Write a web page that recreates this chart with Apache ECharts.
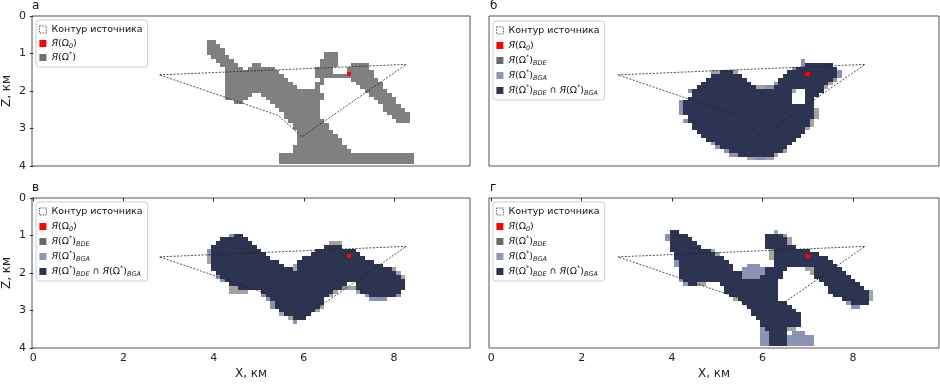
<!DOCTYPE html>
<html><head><meta charset="utf-8">
<script src="https://cdn.jsdelivr.net/npm/echarts@6/dist/echarts.min.js"></script>
<style>html,body{margin:0;padding:0;background:#fff}#c{width:940px;height:384px}</style>
</head><body><div id="c"></div>
<script>
// ---------------- data ----------------
// ticks
const xTicks = [0, 2, 4, 6, 8];
const zTicks = [0, 1, 2, 3, 4];
// source contour (X km, Z km)
const contourX = [2.80, 8.27, 5.96, 5.43, 2.80];
const contourZ = [1.57, 1.29, 3.22, 2.65, 1.57];
// initial point Ω0 (X km, Z km)
const omega0 = [[7.0, 1.55]];
// grid cells 0.1 km: each row = [rowIndex j (Z=j/10), colFrom, colTo, colFrom, colTo, ...] (X=i/10)
const regionA = [
[7,39,40],[8,39,41],[9,39,42],[10,39,42,65,67],[11,40,43,65,67],[12,41,44,64,67],
[13,42,45,49,50,64,67,71,74],[14,43,46,48,53,63,66,70,74],[15,43,54,63,66,70,75],
[16,43,55,63,75],[17,43,56,64,64,71,76],[18,43,57,63,64,72,77],[19,43,58,63,63,73,77],
[20,43,63,74,78],[21,43,48,51,64,75,79],[22,43,47,52,64,76,80],[23,45,46,53,63,77,80],
[24,54,63,78,81],[25,55,63,78,82],[26,56,63,79,83],[27,56,63,80,83],[28,57,64,81,83],
[29,58,65],[30,58,65],[31,59,66],[32,59,67],[33,59,68],[34,59,68],[35,58,69],[36,58,70],
[37,55,84],[38,55,84],[39,55,84]
];
// panel б
const coreB = [
[13,70,75],[14,68,76],[15,51,53,66,76],[16,49,55,65,76],[17,48,56,64,75],[18,47,57,64,74],
[19,46,58,63,73],[20,45,66,70,73],[21,45,66,70,72],[22,44,66,70,71],[23,43,66,70,71],
[24,43,71],[25,43,71],[26,43,71],[27,44,71],[28,44,70],[29,45,70],[30,45,69],[31,46,69],
[32,47,68],[33,48,67],[34,50,66],[35,51,65],[36,53,64],[37,55,62]
];
const bdeExtraB = [
[15,49,50,54,54],[18,75,75],[19,59,60,74,74],[20,67,67],[25,72,72],[26,72,72],[27,72,72],
[28,71,71],[29,71,71],[30,70,70],[36,65,65],[37,63,63],[38,57,58,61,62]
];
const bgaExtraB = [
[12,69,69],[13,69,69],[14,67,67],[15,77,77],[16,77,77],[17,76,76],[18,63,63],[19,61,62],
[20,44,44],[23,42,42],[24,42,42],[25,42,42],[26,42,42],[28,43,43],[34,49,49],[35,50,50],
[36,52,52],[37,53,54],[38,59,60]
];
// panel в
const coreV = [
[10,45,46],[11,42,47],[12,41,48],[13,40,49,65,68],[14,40,50,63,71],[15,40,51,62,72],
[16,40,52,60,73],[17,40,54,59,75],[18,40,55,59,77],[19,40,57,59,79],[20,41,80],[21,42,81],
[22,43,82],[23,44,69,72,82],[24,46,68,72,82],[25,51,66,73,81],[26,52,65,75,80],[27,53,64],
[28,54,64],[29,54,63],[30,55,62],[31,56,61],[32,58,60]
];
const bdeExtraV = [
[12,66,68],[16,39,39],[17,39,39],[18,58,58],[19,58,58,80,80],[20,81,81],[21,82,82],
[24,44,45,70,71],[25,44,47,67,67,72,72],[26,66,66],[29,64,64],[30,63,63],[31,55,55],[32,57,57]
];
const bgaExtraV = [
[10,44,44],[14,39,39],[15,39,39],[21,41,41],[22,42,42],[24,69,69],[26,51,51,74,74,81,81],
[27,52,52,75,78],[28,53,53],[29,53,53],[33,58,58]
];
// panel г
const coreG = [
[9,40,41],[10,40,43,61,64],[11,40,44,61,65],[12,40,45,61,65],[13,40,46,61,67],[14,40,48,63,70],
[15,41,49,63,72],[16,41,51,63,74],[17,42,52,63,75],[18,42,53,63,76],[19,42,53,61,65,72,77],
[20,42,55,61,64,72,78],[21,42,55,60,64,72,79],[22,43,63,73,80],[23,44,45,51,63,74,81],
[24,52,63,75,82],[25,52,63,75,83],[26,53,63,76,83],[27,55,63,78,83],[28,56,65,80,83],
[29,57,66],[30,58,67],[31,58,68],[32,59,68],[33,60,68],[34,60,68],[35,61,65],
[36,62,65],[37,62,65],[38,62,65],[39,62,65]
];
const bdeExtraG = [
[9,63,63],[11,66,66],[12,66,66],[14,49,49,62,62],[15,50,50,62,62],[16,62,62],
[19,70,71],[20,71,71],[23,46,47],[25,84,84],[26,84,84],[27,84,84,54,54],[35,66,67]
];
const bgaExtraG = [
[10,39,39,65,65],[11,39,39],[17,41,41],[18,41,41,57,59],[19,56,60],[20,56,60],[21,56,59],
[22,42,42],[23,43,43],[28,79,79],[29,80,81],[35,60,60],[36,60,61,67,69],[37,60,61,66,71],
[38,60,61,66,71],[39,60,61,66,71]
];

// ---------------- helpers ----------------
function expand(rows) {
  const out = [];
  rows.forEach(r => { for (let k = 1; k < r.length; k += 2) for (let i = r[k]; i <= r[k + 1]; i++) out.push(i + ',' + r[0]); });
  return out;
}
function toCells(keys) { return keys.map(s => { const p = s.split(','); return [(+p[0]) / 10, (+p[1]) / 10]; }); }
function classify(core, bdeExtra, bgaExtra) {
  const bde = new Set(expand(core).concat(expand(bdeExtra)));
  const bga = new Set(expand(core).concat(expand(bgaExtra)));
  const both = [], bdeOnly = [], bgaOnly = [];
  bde.forEach(k => (bga.has(k) ? both : bdeOnly).push(k));
  bga.forEach(k => { if (!bde.has(k)) bgaOnly.push(k); });
  return { both: toCells(both), bdeOnly: toCells(bdeOnly), bgaOnly: toCells(bgaOnly) };
}

const COL = { region: '#808080', bde: '#a3a3a3', bga: '#8a93b5', both: '#2d3451', red: '#ff0000' };
const LEG = { region: '#6f6f6f', bde: '#6a6a6a', bga: '#8e97b7', both: '#2d3451', red: '#ff0000' };
const FONT = 'DejaVu Sans';

const grids = [
  { left: 31, top: 16, width: 439, height: 150 },
  { left: 489, top: 16, width: 450, height: 150 },
  { left: 31, top: 198, width: 439, height: 150 },
  { left: 489, top: 198, width: 450, height: 150 }
];
const xRange = [[-0.029, 9.684], [-0.051, 9.905], [-0.029, 9.684], [-0.051, 9.905]];

function cellSeries(name, gi, cells, color, z) {
  return {
    type: 'custom', name, xAxisIndex: gi, yAxisIndex: gi, data: cells, encode: { x: 0, y: 1 },
    silent: true, clip: true, z: z || 2, itemStyle: { color },
    renderItem(params, api) {
      const x = api.value(0), zz = api.value(1);
      const p0 = api.coord([x - 0.05, zz - 0.05]);
      const p1 = api.coord([x + 0.05, zz + 0.05]);
      const x0 = Math.round(Math.min(p0[0], p1[0])), x1 = Math.round(Math.max(p0[0], p1[0]));
      const y0 = Math.round(Math.min(p0[1], p1[1])), y1 = Math.round(Math.max(p0[1], p1[1]));
      return {
        type: 'rect',
        shape: { x: x0, y: y0, width: x1 - x0, height: y1 - y0 },
        style: { fill: color }
      };
    }
  };
}
function contourSeries(name, gi) {
  return {
    type: 'line', name, xAxisIndex: gi, yAxisIndex: gi, data: contourX.map((x, k) => [x, contourZ[k]]),
    symbol: 'none', silent: true, z: 4,
    lineStyle: { color: '#222', width: 0.8, type: [2, 1.5] }, itemStyle: { color: '#fff' }
  };
}

const LABELS = {
  contour: 'Контур источника',
  omega0: '{it|Я}(Ω{sub|0})',
  region: '{it|Я}(Ω{sup|*})',
  bde: '{it|Я}(Ω{sup|*}){sub|BDE}',
  bga: '{it|Я}(Ω{sup|*}){sub|BGA}',
  both: '{it|Я}(Ω{sup|*}){sub|BDE} ∩ {it|Я}(Ω{sup|*}){sub|BGA}'
};
const LH = 13;
const rich = {
  it: { fontStyle: 'italic', fontSize: 9.5, fontFamily: FONT, lineHeight: LH, color: '#111' },
  sub: { fontStyle: 'italic', fontSize: 6.5, fontFamily: FONT, verticalAlign: 'bottom', lineHeight: LH, color: '#111' },
  sup: { fontSize: 6.5, fontFamily: FONT, verticalAlign: 'top', lineHeight: LH, color: '#111' }
};

const series = [];
const legends = [];
const legPos = [[36, 20], [493, 21], [36, 202], [493, 202]];
const panels = ['a', 'b', 'v', 'g'];
const sets = { b: classify(coreB, bdeExtraB, bgaExtraB), v: classify(coreV, bdeExtraV, bgaExtraV), g: classify(coreG, bdeExtraG, bgaExtraG) };

panels.forEach((p, gi) => {
  const legData = [{ name: p + '|contour', itemStyle: { color: '#fff', borderColor: '#333', borderWidth: 0.8, borderType: [1.5, 1.2] } },
                   { name: p + '|omega0', itemStyle: { color: LEG.red } }];
  if (p === 'a') {
    series.push(cellSeries(p + '|region', gi, toCells(expand(regionA)), COL.region));
    legData.push({ name: p + '|region', itemStyle: { color: LEG.region } });
  } else {
    const s = sets[p];
    series.push(cellSeries(p + '|bde', gi, s.bdeOnly, COL.bde));
    series.push(cellSeries(p + '|bga', gi, s.bgaOnly, COL.bga));
    series.push(cellSeries(p + '|both', gi, s.both, COL.both));
    legData.push({ name: p + '|bde', itemStyle: { color: LEG.bde } });
    legData.push({ name: p + '|bga', itemStyle: { color: LEG.bga } });
    legData.push({ name: p + '|both', itemStyle: { color: LEG.both } });
  }
  series.push(contourSeries(p + '|contour', gi));
  series.push(cellSeries(p + '|omega0', gi, omega0, COL.red, 5));
  legends.push({
    data: legData, orient: 'vertical', left: legPos[gi][0], top: legPos[gi][1], icon: 'rect',
    itemWidth: 7, itemHeight: 7, itemGap: p === 'a' ? 1 : 2, selectedMode: false,
    backgroundColor: 'rgba(255,255,255,0.85)', borderColor: '#cfcfcf', borderWidth: 1, borderRadius: 3,
    padding: [3, 5, 3, 3],
    textStyle: { fontFamily: FONT, fontSize: 9.5, color: '#111', lineHeight: LH, rich },
    formatter: name => LABELS[name.split('|')[1]]
  });
});

const xAxis = grids.map((g, gi) => {
  const bottom = gi >= 2;
  return {
    type: 'value', gridIndex: gi, min: xRange[gi][0], max: xRange[gi][1],
    axisLine: { show: false }, splitLine: { show: false },
    axisTick: { show: bottom, length: 3.5, lineStyle: { color: '#333' }, customValues: xTicks },
    axisLabel: { show: bottom, customValues: xTicks, fontSize: 11, color: '#222', margin: 5, fontFamily: FONT },
    name: bottom ? 'X, км' : '', nameLocation: 'middle', nameGap: 20,
    nameTextStyle: { fontSize: 12, color: '#222', fontFamily: FONT }
  };
});
const yAxis = grids.map((g, gi) => {
  const left = gi % 2 === 0;
  return {
    type: 'value', gridIndex: gi, min: zTicks[0], max: zTicks[zTicks.length - 1], interval: 1, inverse: true,
    axisLine: { show: false }, splitLine: { show: false },
    axisTick: { show: left, length: 3.5, lineStyle: { color: '#333' } },
    axisLabel: { show: left, fontSize: 11, color: '#222', margin: 6, fontFamily: FONT },
    name: left ? 'Z, км' : '', nameLocation: 'middle', nameGap: 19, nameRotate: 90,
    nameTextStyle: { fontSize: 12, color: '#222', fontFamily: FONT }
  };
});

const titles = [['а', 32, 0], ['б', 490, 0], ['в', 32, 182], ['г', 490, 182]].map(t => ({
  text: t[0], left: t[1], top: t[2], padding: 0,
  textStyle: { fontSize: 12, fontWeight: 'normal', color: '#111', fontFamily: FONT }
}));

const option = {
  animation: false,
  backgroundColor: '#fff',
  title: titles,
  grid: grids.map(g => Object.assign({ show: true, borderColor: '#555', borderWidth: 1, backgroundColor: 'transparent' }, g)),
  xAxis, yAxis, legend: legends, series
};
const chart = echarts.init(document.getElementById('c'), null, { renderer: 'canvas' });
chart.setOption(option);
</script></body></html>
